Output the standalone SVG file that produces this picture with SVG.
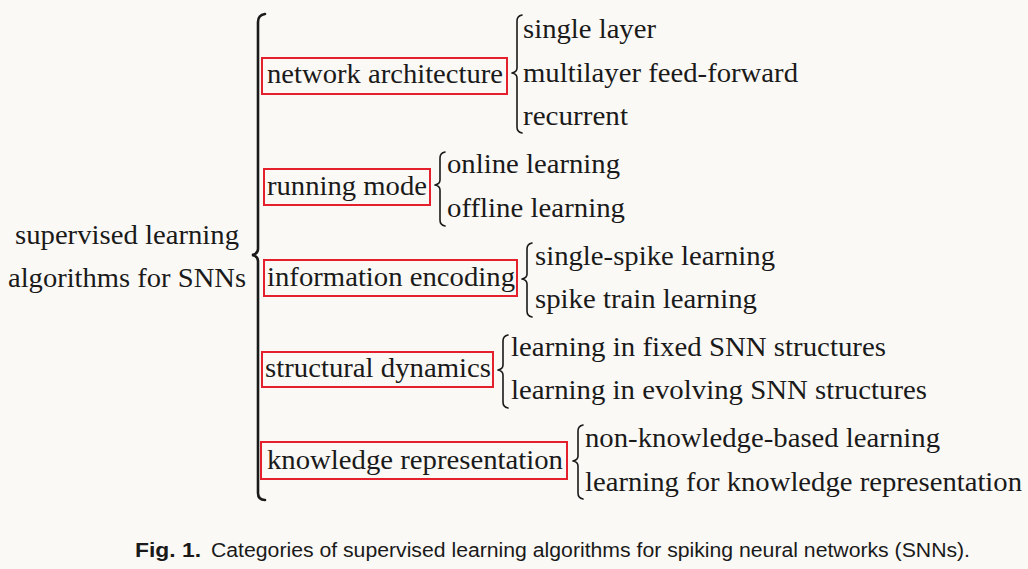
<svg xmlns="http://www.w3.org/2000/svg" width="1028" height="569" viewBox="0 0 1028 569">
<style>
.t{font-family:"Liberation Serif",Tinos,"Times New Roman",serif;font-size:27px;fill:#1a1a1a}
.box{fill:none;stroke:#e3202b;stroke-width:2}
.br{fill:none;stroke:#1a1a1a;stroke-width:1.6;stroke-linecap:round;stroke-linejoin:round}
.bigbr{fill:none;stroke:#1a1a1a;stroke-width:2.6;stroke-linecap:round}
.cap{font-family:"Liberation Sans Narrow","Liberation Sans",Arial,sans-serif;font-size:20px;fill:#1a1a1a}
</style>
<rect width="1028" height="569" fill="#faf9f5"/>
<g id="root">
<text class="t" x="127" y="244" text-anchor="middle" textLength="224" lengthAdjust="spacingAndGlyphs">supervised learning</text>
<text class="t" x="127" y="287" text-anchor="middle" textLength="238" lengthAdjust="spacingAndGlyphs">algorithms for SNNs</text>
</g>
<g id="connectors">
<path class="bigbr" d="M265,14 Q258,15 258,22 L258,249 Q258,254 252,255 Q258,256 258,261 L258,493 Q258,500 265,500"/>
<path class="br" d="M522,15 Q517,16 517,21 L517,68 Q517,72 512,73 Q517,74 517,78 L517,127 Q517,132 522,133"/>
<path class="br" d="M445,152 Q440,153 440,158 L440,180 Q440,184 435,185 Q440,186 440,190 L440,220 Q440,225 445,226"/>
<path class="br" d="M532,243 Q527,244 527,249 L527,274 Q527,278 522,279 Q527,280 527,284 L527,311 Q527,316 532,317"/>
<path class="br" d="M508,335 Q503,336 503,341 L503,365 Q503,369 498,370 Q503,371 503,375 L503,402 Q503,407 508,408"/>
<path class="br" d="M583,425 Q578,426 578,431 L578,456 Q578,460 573,461 Q578,462 578,466 L578,493 Q578,498 583,499"/>
</g>
<g id="network-architecture">
<rect class="box" x="262" y="58" width="245" height="36"/>
<text class="t" x="267" y="83" textLength="236" lengthAdjust="spacingAndGlyphs">network architecture</text>
<text class="t" x="523" y="38" textLength="133" lengthAdjust="spacingAndGlyphs">single layer</text>
<text class="t" x="523" y="82" textLength="275" lengthAdjust="spacingAndGlyphs">multilayer feed-forward</text>
<text class="t" x="523" y="125" textLength="105" lengthAdjust="spacingAndGlyphs">recurrent</text>
</g>
<g id="running-mode">
<rect class="box" x="264" y="169" width="166" height="36"/>
<text class="t" x="267" y="195" textLength="160" lengthAdjust="spacingAndGlyphs">running mode</text>
<text class="t" x="447" y="173" textLength="173" lengthAdjust="spacingAndGlyphs">online learning</text>
<text class="t" x="447" y="217" textLength="178" lengthAdjust="spacingAndGlyphs">offline learning</text>
</g>
<g id="information-encoding">
<rect class="box" x="264" y="260" width="253" height="36"/>
<text class="t" x="267" y="286" textLength="248" lengthAdjust="spacingAndGlyphs">information encoding</text>
<text class="t" x="535" y="265" textLength="240" lengthAdjust="spacingAndGlyphs">single-spike learning</text>
<text class="t" x="535" y="308" textLength="222" lengthAdjust="spacingAndGlyphs">spike train learning</text>
</g>
<g id="structural-dynamics">
<rect class="box" x="262" y="352" width="231" height="35"/>
<text class="t" x="265" y="377" textLength="226" lengthAdjust="spacingAndGlyphs">structural dynamics</text>
<text class="t" x="511" y="356" textLength="375" lengthAdjust="spacingAndGlyphs">learning in fixed SNN structures</text>
<text class="t" x="511" y="399" textLength="416" lengthAdjust="spacingAndGlyphs">learning in evolving SNN structures</text>
</g>
<g id="knowledge-representation">
<rect class="box" x="261" y="442" width="306" height="37"/>
<text class="t" x="267" y="469" textLength="296" lengthAdjust="spacingAndGlyphs">knowledge representation</text>
<text class="t" x="585" y="447" textLength="355" lengthAdjust="spacingAndGlyphs">non-knowledge-based learning</text>
<text class="t" x="585" y="491" textLength="437" lengthAdjust="spacingAndGlyphs">learning for knowledge representation</text>
</g>
<g id="caption">
<text class="cap" x="135" y="557"><tspan font-weight="bold" textLength="66" lengthAdjust="spacingAndGlyphs">Fig. 1.</tspan><tspan x="211" textLength="759" lengthAdjust="spacingAndGlyphs">Categories of supervised learning algorithms for spiking neural networks (SNNs).</tspan></text>
</g>
</svg>
